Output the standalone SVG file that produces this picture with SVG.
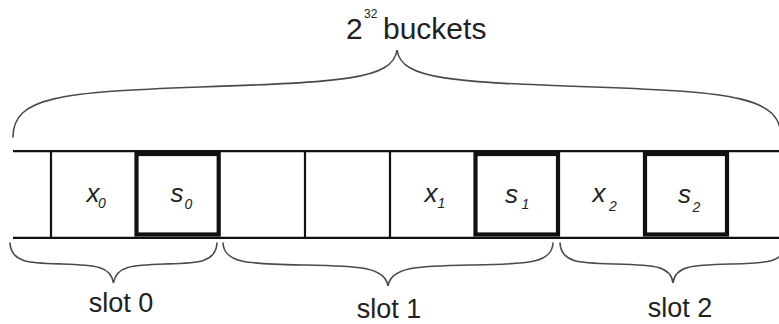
<svg xmlns="http://www.w3.org/2000/svg" width="779" height="324" viewBox="0 0 779 324">
  <style>
    .rail { stroke: #111; stroke-width: 2.3; fill: none; }
    .cell { stroke: #111; stroke-width: 2.2; fill: none; }
    .key  { stroke: #111; stroke-width: 4.2; fill: none; }
    .brace { stroke: #4a4a4a; stroke-width: 1.6; fill: none; stroke-linecap: round; }
    .lbl { font-family: "Liberation Sans", Arial, sans-serif; fill: #222; }
    .var { font-family: "Liberation Sans", Arial, sans-serif; font-style: italic; fill: #222; font-size: 26px; }
    .sub { font-size: 14px; }
  </style>
  <rect width="779" height="324" fill="#fff"/>

  <!-- bucket array rails -->
  <g id="rails">
    <line class="rail" x1="13" y1="151.2" x2="779" y2="151.2"/>
    <line class="rail" x1="13" y1="237.8" x2="779" y2="237.8"/>
  </g>

  <!-- buckets -->
  <g id="bucket-x0">
    <line class="cell" x1="51" y1="151" x2="51" y2="238"/>
    <text class="var" x="86.5" y="201.7">x</text>
    <text class="var sub" x="98" y="207.5">0</text>
  </g>
  <g id="bucket-s0">
    <rect class="key" x="136.5" y="154" width="82.2" height="80.5"/>
    <text class="var" x="170.5" y="202">s</text>
    <text class="var sub" x="184.5" y="208.5">0</text>
  </g>
  <g id="bucket-empty-a">
    <line class="cell" x1="305" y1="151" x2="305" y2="238"/>
  </g>
  <g id="bucket-empty-b">
    <line class="cell" x1="390" y1="151" x2="390" y2="238"/>
  </g>
  <g id="bucket-x1">
    <text class="var" x="424.5" y="201.7">x</text>
    <text class="var sub" x="437.5" y="207.5">1</text>
  </g>
  <g id="bucket-s1">
    <rect class="key" x="475.5" y="154" width="82.5" height="80.5"/>
    <text class="var" x="505" y="202.5">s</text>
    <text class="var sub" x="521.5" y="208.5">1</text>
  </g>
  <g id="bucket-x2">
    <text class="var" x="592.5" y="201.7">x</text>
    <text class="var sub" x="609" y="210.5">2</text>
  </g>
  <g id="bucket-s2">
    <rect class="key" x="645" y="154" width="82" height="80.5"/>
    <text class="var" x="678" y="202.5">s</text>
    <text class="var sub" x="692.5" y="212">2</text>
  </g>

  <!-- braces -->
  <g id="connectors">
    <path class="brace" d="M13,137 C13,97 60,92 200,87 C340,82 393,80 397,50 C401,80 454,82 594,87 C734,92 781,97 781,137"/>
    <path class="brace" d="M10,243 C11,263 30,263 62,264 C95,265 111,266 113.5,283 C116,266 132,265 165,264 C197,263 216,263 217,243"/>
    <path class="brace" d="M223,243 C224,264 250,264 305,265 C360,266 385,267 388,286 C391,267 416,266 471,265 C526,264 552,264 553,243"/>
    <path class="brace" d="M560,243 C561,263 580,263 616,264 C655,265 671,266 673,283 C675,266 691,265 730,264 C766,263 785,263 786,243"/>
  </g>

  <!-- labels -->
  <g id="label-buckets">
    <text class="lbl" x="346" y="38.5" font-size="30">2</text>
    <text class="lbl" x="364" y="18" font-size="12">32</text>
    <text class="lbl" x="383" y="38.5" font-size="30">buckets</text>
  </g>
  <g id="label-slot0"><text class="lbl" x="121" y="312" font-size="27" text-anchor="middle">slot 0</text></g>
  <g id="label-slot1"><text class="lbl" x="389" y="318" font-size="27" text-anchor="middle">slot 1</text></g>
  <g id="label-slot2"><text class="lbl" x="680" y="317" font-size="27" text-anchor="middle">slot 2</text></g>
</svg>
